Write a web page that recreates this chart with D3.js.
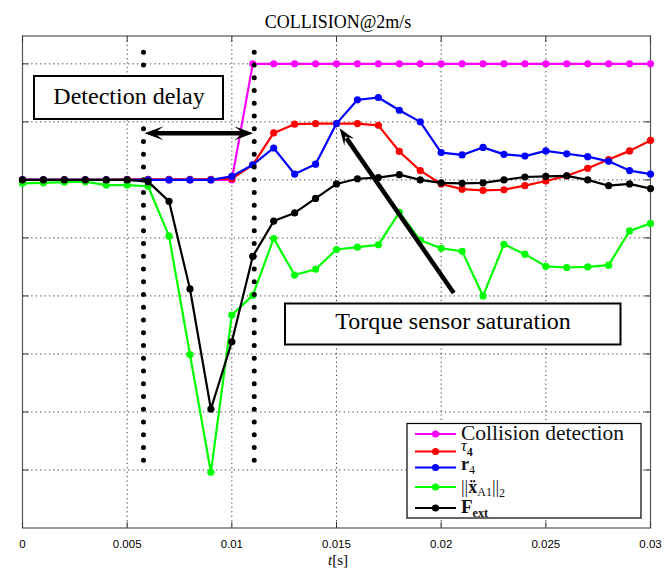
<!DOCTYPE html>
<html lang="en">
<head>
<meta charset="utf-8">
<title>COLLISION@2m/s</title>
<script src="https://cdnjs.cloudflare.com/ajax/libs/d3/7.8.5/d3.min.js"></script>
<style>
  body { margin: 0; background: #fff; }
  svg { display: block; }
  .serif { font-family: "Liberation Serif", "Times New Roman", "DejaVu Serif", serif; }
  .sans { font-family: "Liberation Sans", Arial, sans-serif; }
</style>
</head>
<body>
<script>
// time samples [s]
var time = [0, 0.001, 0.002, 0.003, 0.004, 0.005, 0.006, 0.007, 0.008, 0.009, 0.010,
            0.011, 0.012, 0.013, 0.014, 0.015, 0.016, 0.017, 0.018, 0.019, 0.020,
            0.021, 0.022, 0.023, 0.024, 0.025, 0.026, 0.027, 0.028, 0.029, 0.030];

var detection = [0, 0, 0, 0, 0, 0, 0, 0, 0, 0, 0,
                 2, 2, 2, 2, 2, 2, 2, 2, 2, 2,
                 2, 2, 2, 2, 2, 2, 2, 2, 2, 2];
var tau4 = [0, 0, 0, 0, 0, 0.01, 0.01, 0.01, 0.01, 0.01, 0.02,
            0.26, 0.81, 0.96, 0.97, 0.97, 0.97, 0.94, 0.49, 0.16, -0.07,
            -0.16, -0.18, -0.17, -0.10, -0.02, 0.07, 0.20, 0.35, 0.50, 0.68];
var r4 = [0, 0, 0, 0, 0, 0, 0, 0, 0, 0, 0.06,
          0.26, 0.55, 0.10, 0.27, 0.97, 1.38, 1.42, 1.20, 1.00, 0.47,
          0.43, 0.56, 0.44, 0.41, 0.50, 0.45, 0.40, 0.32, 0.16, 0.10];
var accel = [-0.06, -0.05, -0.04, -0.03, -0.09, -0.09, -0.11, -0.97, -3.01, -5.04, -2.33,
             -1.99, -1.01, -1.64, -1.54, -1.20, -1.16, -1.12, -0.56, -1.04, -1.18,
             -1.23, -2.00, -1.11, -1.28, -1.49, -1.51, -1.50, -1.47, -0.88, -0.75];
var fext = [0, 0, 0, 0, 0, 0, -0.03, -0.37, -1.88, -3.95, -2.79,
            -1.32, -0.71, -0.57, -0.32, -0.07, 0.02, 0.04, 0.09, 0.00, -0.05,
            -0.06, -0.05, 0.00, 0.05, 0.06, 0.07, 0.00, -0.10, -0.07, -0.15];

var seriesNames = ['Collision detection', 'tau4', 'r4', 'acc', 'Fext'];
var seriesColors = ['#ff00ff', '#ff0000', '#0000ff', '#00ff00', '#000000'];
var seriesValues = [detection, tau4, r4, accel, fext];

var xTicks = [0, 0.005, 0.01, 0.015, 0.02, 0.025, 0.03];
var xTickLabels = ['0', '0.005', '0.01', '0.015', '0.02', '0.025', '0.03'];
var yTicks = [-5, -4, -3, -2, -1, 0, 1, 2];

// annotation anchors in data units
var delayStart = 0.00578, delayEnd = 0.01107;

var W = 670, H = 569;
var svg = d3.select('body').append('svg').attr('width', W).attr('height', H);

var x = d3.scaleLinear().domain([0, 0.03]).range([22.5, 650.5]);
var y = d3.scaleLinear().domain([-6, 2.48]).range([528, 36]);

// title
svg.append('text').attr('class', 'serif').attr('x', 338).attr('y', 28).attr('text-anchor', 'middle')
  .style('font-size', '18px').text('COLLISION@2m/s');

// grid
var grid = svg.append('g');
grid.selectAll('.gx').data(xTicks.slice(1, -1)).enter().append('line')
  .attr('x1', d => x(d)).attr('x2', d => x(d)).attr('y1', y.range()[1]).attr('y2', y.range()[0])
  .attr('stroke', '#000').attr('stroke-width', 0.8).attr('stroke-dasharray', '1.2,3.2');
grid.selectAll('.gy').data(yTicks).enter().append('line')
  .attr('y1', d => y(d)).attr('y2', d => y(d)).attr('x1', x.range()[0]).attr('x2', x.range()[1])
  .attr('stroke', '#000').attr('stroke-width', 0.8).attr('stroke-dasharray', '1.2,3.2');

// axes box + ticks
var axes = svg.append('g');
axes.append('rect').attr('x', x.range()[0]).attr('y', y.range()[1])
  .attr('width', x.range()[1] - x.range()[0]).attr('height', y.range()[0] - y.range()[1])
  .attr('fill', 'none').attr('stroke', '#555').attr('stroke-width', 1.2);
xTicks.forEach(function(t) {
  axes.append('line').attr('x1', x(t)).attr('x2', x(t)).attr('y1', y.range()[0]).attr('y2', y.range()[0] - 6)
    .attr('stroke', '#333');
  axes.append('line').attr('x1', x(t)).attr('x2', x(t)).attr('y1', y.range()[1]).attr('y2', y.range()[1] + 6)
    .attr('stroke', '#333');
});
yTicks.forEach(function(v) {
  axes.append('line').attr('y1', y(v)).attr('y2', y(v)).attr('x1', x.range()[0]).attr('x2', x.range()[0] + 6)
    .attr('stroke', '#333');
  axes.append('line').attr('y1', y(v)).attr('y2', y(v)).attr('x1', x.range()[1]).attr('x2', x.range()[1] - 6)
    .attr('stroke', '#333');
});
axes.selectAll('.xl').data(xTicks).enter().append('text').attr('class', 'sans')
  .attr('x', d => x(d)).attr('y', 548).attr('text-anchor', 'middle')
  .style('font-size', '11.5px')
  .text((d, i) => xTickLabels[i]);
var xl = axes.append('text').attr('class', 'serif').attr('x', 338).attr('y', 565).attr('text-anchor', 'middle')
  .style('font-size', '15px');
xl.append('tspan').style('font-style', 'italic').text('t');
xl.append('tspan').text('[s]');

// series
var line = d3.line().x((d, i) => x(time[i])).y(d => y(d));
var plot = svg.append('g');
seriesValues.forEach(function(vals, k) {
  var g = plot.append('g');
  g.append('path').attr('d', line(vals)).attr('fill', 'none')
    .attr('stroke', seriesColors[k]).attr('stroke-width', 2.2).attr('stroke-linejoin', 'round');
  g.selectAll('circle').data(vals).enter().append('circle')
    .attr('cx', (d, i) => x(time[i])).attr('cy', d => y(d)).attr('r', 3.6)
    .attr('fill', seriesColors[k]);
});

// thick dotted vertical markers
[delayStart, delayEnd].forEach(function(t) {
  svg.append('line').attr('x1', x(t)).attr('x2', x(t)).attr('y1', y(2.2)).attr('y2', y(-4.95))
    .attr('stroke', '#000').attr('stroke-width', 5).attr('stroke-linecap', 'round')
    .attr('stroke-dasharray', '0,12.75');
});

function head(tip, from, len, half, back) {
  var dx = tip[0] - from[0], dy = tip[1] - from[1];
  var L = Math.sqrt(dx * dx + dy * dy), ux = dx / L, uy = dy / L, px = -uy, py = ux;
  var b = [tip[0] - ux * len, tip[1] - uy * len];
  var n = [tip[0] - ux * (len - back), tip[1] - uy * (len - back)];
  return 'M' + tip + 'L' + [b[0] + px * half, b[1] + py * half] + 'L' + n +
    'L' + [b[0] - px * half, b[1] - py * half] + 'Z';
}

// detection delay double arrow
var ay = y(0.805);
var p1 = [x(delayStart) + 1, ay], p2 = [x(delayEnd) - 1, ay];
svg.append('line').attr('x1', p1[0] + 8).attr('x2', p2[0] - 8).attr('y1', ay).attr('y2', ay)
  .attr('stroke', '#000').attr('stroke-width', 4.5);
svg.append('path').attr('d', head(p1, p2, 19, 7, 9)).attr('fill', '#000');
svg.append('path').attr('d', head(p2, p1, 19, 7, 9)).attr('fill', '#000');

// detection delay box
svg.append('rect').attr('x', 34).attr('y', 76).attr('width', 189).attr('height', 43)
  .attr('fill', '#fff').attr('stroke', '#000').attr('stroke-width', 2);
svg.append('text').attr('class', 'serif').attr('x', 129).attr('y', 104).attr('text-anchor', 'middle')
  .style('font-size', '24px').text('Detection delay');

// torque sensor saturation arrow
var sTip = [x(0.0151) + 1, y(0.89)], sTail = [x(0.0206), y(-1.95)];
svg.append('line').attr('x1', sTail[0]).attr('y1', sTail[1])
  .attr('x2', sTip[0] + (sTail[0] - sTip[0]) * 0.06).attr('y2', sTip[1] + (sTail[1] - sTip[1]) * 0.06)
  .attr('stroke', '#000').attr('stroke-width', 4.5);
svg.append('path').attr('d', head(sTip, sTail, 17, 6, 7)).attr('fill', '#000');

svg.append('rect').attr('x', 285).attr('y', 303.5).attr('width', 335.5).attr('height', 41)
  .attr('fill', '#fff').attr('stroke', '#000').attr('stroke-width', 2);
svg.append('text').attr('class', 'serif').attr('x', 453).attr('y', 329).attr('text-anchor', 'middle')
  .style('font-size', '24px').text('Torque sensor saturation');

// legend
var leg = svg.append('g');
leg.append('rect').attr('x', 407).attr('y', 423.5).attr('width', 234).attr('height', 94.5)
  .attr('fill', '#fff').attr('stroke', '#000').attr('stroke-width', 1.2);
var rowY = [434, 451.5, 467.5, 487, 508];
seriesNames.forEach(function(nm, k) {
  var ry = rowY[k];
  leg.append('line').attr('x1', 415).attr('x2', 456).attr('y1', ry).attr('y2', ry)
    .attr('stroke', seriesColors[k]).attr('stroke-width', 2.2);
  leg.append('circle').attr('cx', 435.5).attr('cy', ry).attr('r', 3.6).attr('fill', seriesColors[k]);
  var t = leg.append('text').attr('class', 'serif').attr('x', 461).attr('y', ry + 5.5)
    .style('font-size', '19px').attr('fill', '#111');
  if (k === 0) {
    t.style('font-size', '21.5px').attr('y', ry + 6).text('Collision detection');
  } else if (k === 1) {
    t.attr('y', ry - 1).style('font-size', '16px');
    t.append('tspan').style('font-style', 'italic').text('τ');
    t.append('tspan').attr('dy', 5).style('font-size', '12px').style('font-weight', 'bold').text('4');
  } else if (k === 2) {
    t.attr('y', ry + 2).style('font-size', '18px');
    t.append('tspan').style('font-weight', 'bold').text('r');
    t.append('tspan').attr('dy', 4).style('font-size', '12px').text('4');
  } else if (k === 3) {
    t.attr('y', ry + 6).style('font-size', '18px');
    t.append('tspan').text('||');
    t.append('tspan').style('font-weight', 'bold').text('x\u0308');
    t.append('tspan').attr('dy', 3).style('font-size', '12px').text('A1');
    t.append('tspan').attr('dy', -3).text('||');
    t.append('tspan').attr('dy', 4).style('font-size', '12px').text('2');
  } else {
    t.attr('y', ry + 5).style('font-size', '19px');
    t.append('tspan').style('font-weight', 'bold').text('F');
    t.append('tspan').attr('dy', 4).style('font-size', '12px').style('font-weight', 'bold').text('ext');
  }
});
</script>
</body>
</html>
